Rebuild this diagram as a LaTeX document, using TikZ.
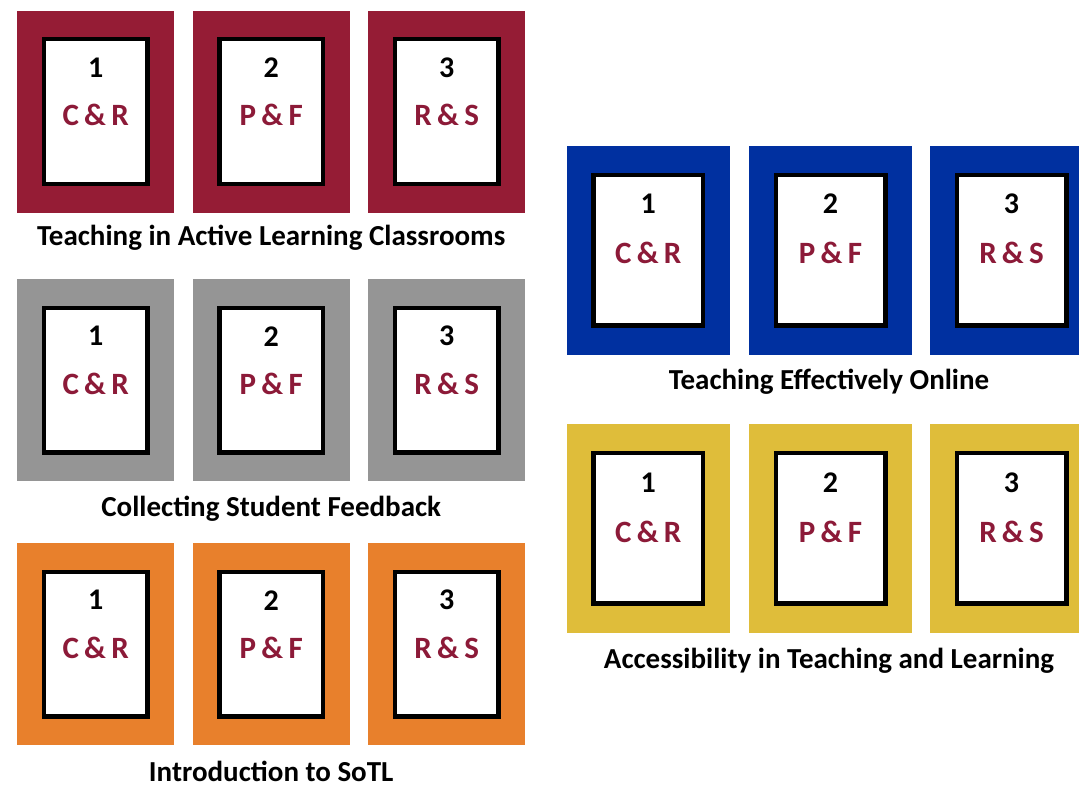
\documentclass[tikz,border=0pt]{standalone}
\usepackage{fontspec}
\setmainfont{Carlito}
\newfontfamily\boxfont{Carlito}[WordSpace=0.75]
\definecolor{cmaroon}{RGB}{149,28,53}
\definecolor{cblue}{RGB}{0,48,160}
\definecolor{cgray}{RGB}{149,149,149}
\definecolor{corange}{RGB}{232,128,44}
\definecolor{cyellow}{RGB}{223,189,58}
\definecolor{txtred}{RGB}{140,26,56}
\tikzset{
  outerbox/.style={rectangle, inner sep=0pt, outer sep=0pt, draw=none},
  innerbox/.style={rectangle, draw=black, line width=4.5pt, fill=white, inner sep=0pt},
  numtxt/.style={font=\fontsize{30}{30}\selectfont\bfseries, text=black, inner sep=0pt},
  lettxt/.style={font=\boxfont\fontsize{31}{31}\selectfont\bfseries, text=txtred, inner sep=0pt},
  titletxt/.style={font=\fontsize{29}{29}\selectfont\bfseries, text=black, anchor=base, inner sep=0pt}
}
\begin{document}
\begin{tikzpicture}[x=1pt,y=-1pt]
\useasboundingbox (0,0) rectangle (1079,787);
\clip (0,0) rectangle (1079,787);
% left column
\foreach \r/\yc/\col/\ttl/\tb in {a/111.5/cmaroon/Teaching in Active Learning Classrooms/245,
                                  b/380.2/cgray/Collecting Student Feedback/516,
                                  c/644.2/corange/Introduction to SoTL/781}{
  \foreach \k/\xc/\lab in {1/95.7/C \& R, 2/271.2/P \& F, 3/446.7/R \& S}{
    \node[outerbox, fill=\col, minimum width=157pt, minimum height=202pt] (\r\k o) at (\xc,\yc) {};
    \node[innerbox, minimum width=103.8pt, minimum height=144.8pt] (\r\k i) at (\r\k o.center) {};
    \node[numtxt] (\r\k n) at (\xc,\yc-44) {\k};
    \node[lettxt] (\r\k l) at (\xc,\yc+3.5) {\lab};
  }
  \node[titletxt] (\r t) at (271.2,\tb) {\ttl};
}
% right column
\foreach \r/\yc/\col/\ttl/\tb in {d/250/cblue/Teaching Effectively Online/389,
                                  e/528.3/cyellow/Accessibility in Teaching and Learning/668}{
  \foreach \k/\xc/\lab in {1/648.3/C \& R, 2/830.5/P \& F, 3/1011.5/R \& S}{
    \node[outerbox, fill=\col, minimum width=163pt, minimum height=209pt] (\r\k o) at (\xc,\yc) {};
    \node[innerbox, minimum width=109.5pt, minimum height=150.5pt] (\r\k i) at (\r\k o.center) {};
    \node[numtxt] (\r\k n) at (\xc,\yc-46) {\k};
    \node[lettxt] (\r\k l) at (\xc,\yc+3.3) {\lab};
  }
  \node[titletxt] (\r t) at (829,\tb) {\ttl};
}
\end{tikzpicture}
\end{document}
